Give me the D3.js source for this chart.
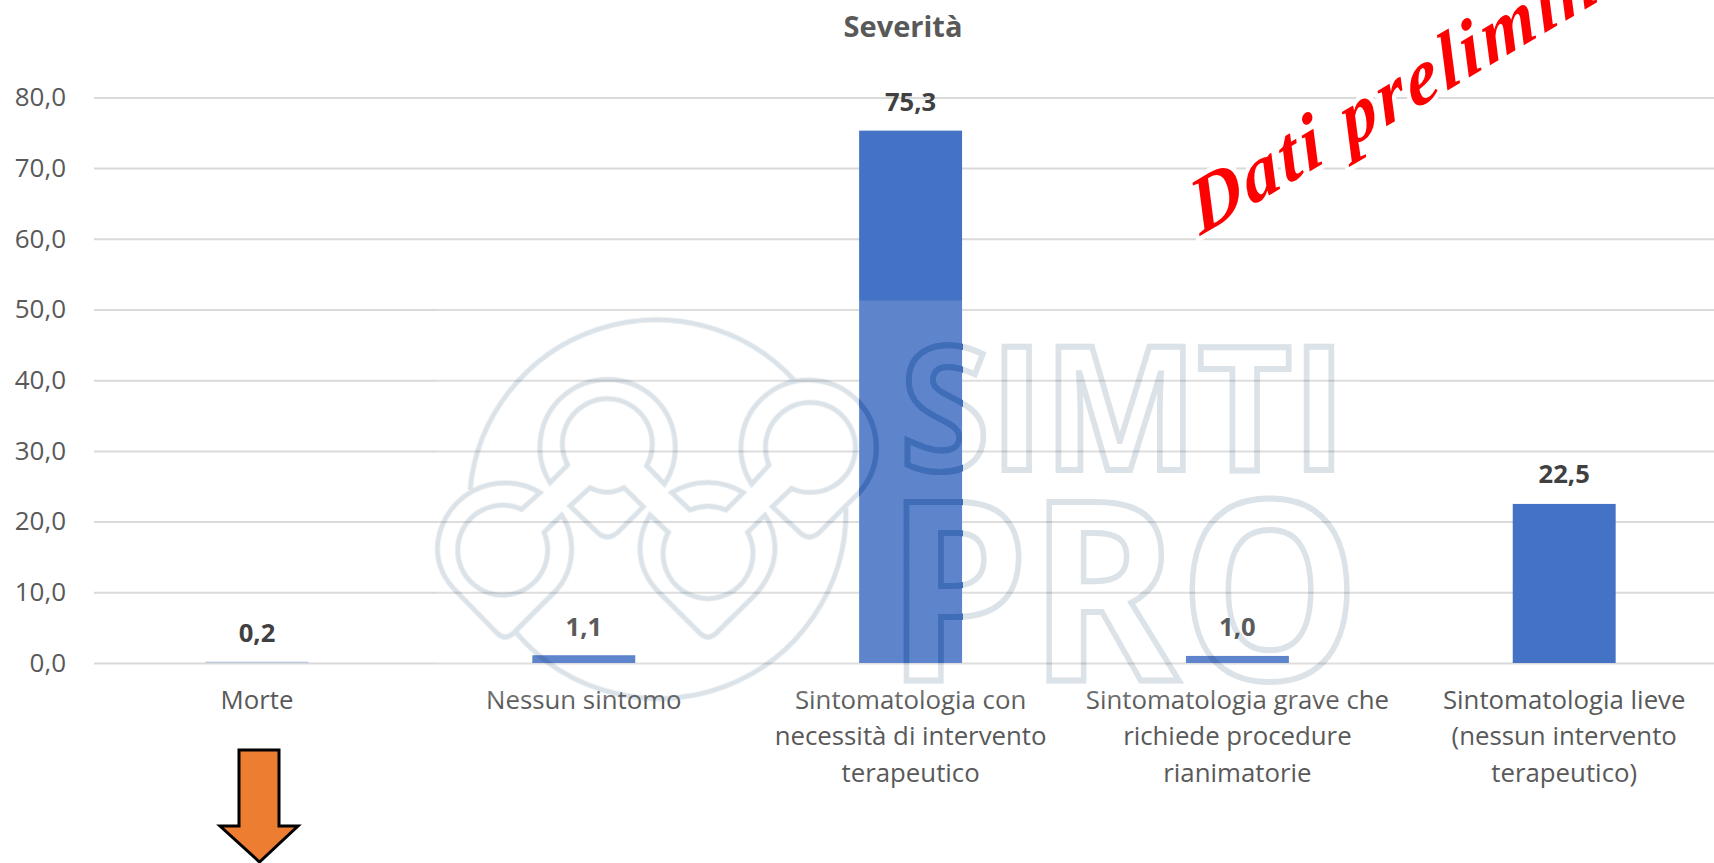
<!DOCTYPE html>
<html><head><meta charset="utf-8">
<script src="https://cdn.jsdelivr.net/npm/d3@7"></script>
<style>html,body{margin:0;padding:0;background:#fff;overflow:hidden}svg{display:block;font-family:"Open Sans",sans-serif}</style>
</head><body><svg id="c" width="1714" height="863"></svg>
<script>
const chartTitle = "Severità";
const categories = ["Morte","Nessun sintomo","Sintomatologia con necessità di intervento terapeutico","Sintomatologia grave che richiede procedure rianimatorie","Sintomatologia lieve (nessun intervento terapeutico)"];
const categoryLines = [["Morte"],["Nessun sintomo"],["Sintomatologia con","necessità di intervento","terapeutico"],["Sintomatologia grave che","richiede procedure","rianimatorie"],["Sintomatologia lieve","(nessun intervento","terapeutico)"]];
const values = [0.2,1.1,75.3,1.0,22.5];
const yTicks = [0,10,20,30,40,50,60,70,80];
const stampText = "Dati preliminari";
const wmLine1 = "SIMTI", wmLine2 = "PRO";

const fmt = v => d3.format(".1f")(v).replace(".",",");
const svg = d3.select("#c");
const x = d3.scaleBand().domain(categories).range([93.6,1727.6]).paddingInner(0.685).paddingOuter(0.3425);
const y = d3.scaleLinear().domain([0,80]).range([663,97.4]);

// grid + y axis
const yAxis = svg.append("g").attr("transform","translate(94,0)")
  .call(d3.axisLeft(y).tickValues(yTicks).tickFormat(fmt).tickSize(-1620).tickPadding(28));
yAxis.select(".domain").remove();
yAxis.selectAll("line").attr("stroke","#d9d9d9").attr("stroke-width",2);
yAxis.selectAll("text").attr("fill","#595959").style("font-size","26px").style("font-family",'"Open Sans",sans-serif');

// bars
svg.append("g").selectAll("rect").data(values).join("rect")
  .attr("x",(d,i)=>x(categories[i])).attr("width",x.bandwidth())
  .attr("y",d=>y(d)).attr("height",d=>y(0)-y(d)).attr("fill","#4472C4")
  .attr("fill-opacity",d=>d<0.5?0.3:1);

// category labels
const xAxis = svg.append("g").attr("transform","translate(0,663)").call(d3.axisBottom(x).tickSize(0).tickFormat(""));
xAxis.select(".domain").remove();
xAxis.selectAll(".tick text").each(function(d,i){
  const t = d3.select(this).attr("y",null).attr("dy",null).attr("fill","#595959").style("font-size","25.8px").style("font-family",'"Open Sans",sans-serif').text(null);
  categoryLines[i].forEach((l,k)=>t.append("tspan").attr("x",0).attr("y",45.5+k*36.6).text(l));
});

// data labels
const labelGap = [29,29,29,29,30];
svg.append("g").selectAll("text").data(values).join("text")
  .attr("x",(d,i)=>x(categories[i])+x.bandwidth()/2)
  .attr("y",(d,i)=>y(d)-labelGap[i]+9.5)
  .attr("text-anchor","middle").attr("font-weight",700).attr("font-size",25.6).attr("fill","#404040").text(fmt);

svg.append("text").attr("x",903).attr("y",37).attr("text-anchor","middle").attr("font-weight",700).attr("font-size",29).attr("fill","#595959").text(chartTitle);

// arrow
svg.append("path").attr("d","M239,750H279V826H298L259.5,862L220,826H239Z").attr("fill","#ED7D31").attr("stroke","#000").attr("stroke-width",3);

// watermark
svg.append("rect").attr("x",437).attr("y",300.5).attr("width",923).attr("height",400).attr("fill","#fff").attr("opacity",0.14);
const defs = svg.append("defs");
const wm = defs.append("g").attr("id","wm");
const logo = wm.append("g").attr("transform","translate(420,300) scale(0.3333)").attr("stroke-width",15);
[
 "M150,570A562,562 0 0 1 1125,243","M1278,625A562,562 0 0 1 290,1000",
 "M360,578A203,203 0 0 0 52,745C52,800 75,840 110,875L232,1000Q255,1022 280,1000L400,880C435,845 455,800 455,745C455,710 445,675 425,645L372,697A135,135 0 1 1 305,628Z",
 "M690,645C672,675 660,710 660,745C660,800 685,845 720,880L840,1000Q863,1022 888,1000L1005,885C1040,845 1065,800 1065,745C1065,710 1055,675 1035,645L983,697A135,135 0 1 1 745,697Z",
 "M755,578A203,203 0 0 1 970,578L918,630A135,135 0 0 0 810,630Z",
 "M390,548A203,203 0 1 1 733,552L680,497A135,135 0 1 0 443,495Z",
 "M510,563Q562,590 612,563L670,620L590,700Q562,722 535,700L450,618Z",
 "M995,552A203,203 0 1 1 1320,575L1195,700Q1168,722 1142,700L1057,620L1115,565A135,135 0 1 0 1047,495Z"
].forEach(d=>logo.append("path").attr("d",d).attr("fill","none"));
wm.append("text").attr("x",900).attr("y",470).attr("font-size",172).attr("font-weight",700).attr("textLength",446).attr("lengthAdjust","spacingAndGlyphs").attr("fill","none").attr("stroke-width",6).text(wmLine1);
wm.append("text").attr("x",886).attr("y",680).attr("font-size",250).attr("font-weight",700).attr("textLength",474).attr("lengthAdjust","spacingAndGlyphs").attr("fill","none").attr("stroke-width",6).text(wmLine2);
defs.append("clipPath").attr("id","barClip").append("rect")
  .attr("x",x(categories[2])).attr("width",x.bandwidth()).attr("y",y(values[2])).attr("height",y(0)-y(values[2]));
svg.append("use").attr("href","#wm").attr("stroke","#dbe3e9").style("mix-blend-mode","multiply");
svg.append("g").attr("clip-path","url(#barClip)").append("use").attr("href","#wm").attr("stroke","#3f6db8");

// stamp
svg.append("text").attr("transform","translate(1200,236) rotate(-30.5) skewX(-14)")
  .attr("font-family",'"Liberation Serif",serif').attr("font-style","italic").attr("font-weight",700).attr("font-size",76)
  .attr("fill","#ff0000").attr("stroke","#fff").attr("stroke-width",9).attr("paint-order","stroke").attr("stroke-linejoin","round")
  .attr("textLength",565).attr("lengthAdjust","spacing").text(stampText);
</script></body></html>
